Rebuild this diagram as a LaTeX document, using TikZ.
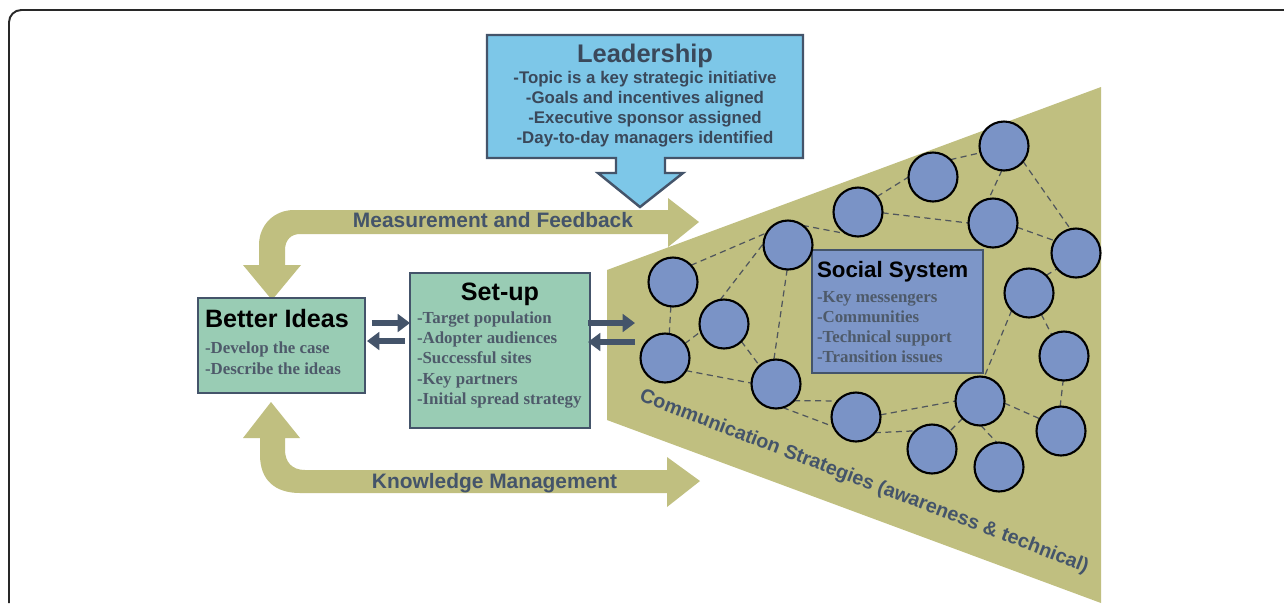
\documentclass[tikz,border=0pt]{standalone}
\usepackage{fontspec}
\setmainfont{Liberation Serif}
\newfontfamily\arialf{Liberation Sans}
\usetikzlibrary{arrows.meta,calc}
\definecolor{olivefill}{RGB}{192,191,128}
\definecolor{leadblue}{RGB}{125,199,232}
\definecolor{boxgreen}{RGB}{153,204,180}
\definecolor{circblue}{RGB}{122,147,198}
\definecolor{socblue}{RGB}{125,150,200}
\definecolor{slate}{RGB}{68,84,106}
\definecolor{leadtext}{RGB}{58,72,90}
\definecolor{bullettxt}{RGB}{78,90,106}
\definecolor{edgegray}{RGB}{80,86,92}
\definecolor{framegray}{RGB}{40,40,40}
\newcommand{\fsz}[1]{\fontsize{#1pt}{#1pt}\selectfont}
\pgfdeclarelayer{back}
\pgfdeclarelayer{mid}
\pgfsetlayers{back,mid,main}
\begin{document}
\begin{tikzpicture}[x=0.02cm,y=-0.02cm,
  every node/.style={inner sep=0pt,outer sep=0pt},
  greenbox/.style={draw=slate,line width=1.4pt,fill=boxgreen},
  socbox/.style={draw=slate,line width=1.2pt,fill=socblue},
  circ/.style={circle,draw=black,line width=1.2pt,fill=circblue,minimum size=0.98cm},
  netedge/.style={draw=edgegray,line width=0.7pt,dash pattern=on 3.5pt off 2.5pt},
  bigtitle/.style={font=\arialf\bfseries\fsz{14.3},text=black,anchor=base},
  soctitle/.style={font=\arialf\bfseries\fsz{12.7},text=black,anchor=base west},
  leadtitle/.style={font=\arialf\bfseries\fsz{14.5},text=leadtext,anchor=base},
  leadline/.style={font=\arialf\bfseries\fsz{9.6},text=leadtext,anchor=base},
  bullet/.style={font=\bfseries\fsz{9.6},text=bullettxt,anchor=base west},
  bandtext/.style={font=\arialf\bfseries\fsz{11.9},text=slate,anchor=base},
  smallarrow/.style={draw=slate,line width=3.4pt,-{Triangle[length=7pt,width=10pt]}},
  bandfill/.style={fill=olivefill}
]
\useasboundingbox (0,0) rectangle (1284,603);

\begin{pgfonlayer}{back}
\fill[white] (0,0) rectangle (1284,603);
\draw[framegray,line width=1.1pt,rounded corners=7pt] (9,603) -- (9,10) -- (1284,10);
% trapezoid of the social system
\fill[olivefill] (607,270) -- (1101,87) -- (1101,603) -- (607,420) -- cycle;
\coordinate (trapL) at (607,345);
% Measurement and Feedback band
\fill[bandfill] (259,265) -- (259,245) .. controls (259,225) and (274,210) .. (294,210)
  -- (668,210) -- (668,198) -- (699,222) -- (668,247) -- (668,234) -- (300,234)
  .. controls (291,234) and (285,240) .. (285,250) -- (285,265) -- (301,265)
  -- (272,300) -- (243,265) -- cycle;
% Knowledge Management band
\fill[bandfill] (260,438) -- (260,455) .. controls (260,480) and (275,493) .. (300,493)
  -- (667,493) -- (667,507) -- (700,481) -- (667,457) -- (667,470) -- (305,470)
  .. controls (292,470) and (285,462) .. (285,450) -- (285,438) -- (300,438)
  -- (271,402) -- (243,438) -- cycle;
\end{pgfonlayer}

% Leadership callout
\filldraw[fill=leadblue,draw=slate,line width=1.4pt,line join=miter]
  (487,35) -- (803,35) -- (803,158) -- (665,158) -- (665,173) -- (683,173)
  -- (640,207) -- (598,173) -- (616,173) -- (616,158) -- (487,158) -- cycle;
\node[leadtitle] (ldt) at (645,62) {Leadership};
\node[leadline] (ld1) at (645,83) {-Topic is a key strategic initiative};
\node[leadline] (ld2) at (645,103) {-Goals and incentives aligned};
\node[leadline] (ld3) at (645,123) {-Executive sponsor assigned};
\node[leadline] (ld4) at (645,143) {-Day-to-day managers identified};

\node[bandtext] (mf) at (493,227) {Measurement and Feedback};
\node[bandtext] (km) at (494.5,488) {Knowledge Management};

% Better Ideas
\node[greenbox,minimum width=3.34cm,minimum height=1.9cm] (bi) at (281.5,345.5) {};
\node[bigtitle,anchor=base west] (bit) at (205,327) {Better Ideas};
\node[bullet] (bi1) at (205,353) {-Develop the case};
\node[bullet] (bi2) at (205,374) {-Describe the ideas};

% Set-up
\node[greenbox,minimum width=3.6cm,minimum height=3.1cm] (su) at (500,350.5) {};
\node[bigtitle] (sut) at (500,300) {Set-up};
\node[bullet] (su1) at (417,323) {-Target population};
\node[bullet] (su2) at (417,343) {-Adopter audiences};
\node[bullet] (su3) at (417,363) {-Successful sites};
\node[bullet] (su4) at (417,384) {-Key partners};
\node[bullet] (su5) at (417,404) {-Initial spread strategy};

% arrows between boxes
\draw[smallarrow] ($(bi.east)+(7,-22.5)$) -- ($(su.west)+(0,-27.5)$);
\draw[smallarrow] ($(su.west)+(-5,-9.5)$) -- ($(bi.east)+(2,-4.5)$);
\draw[smallarrow] ($(su.east)+(-2,-27.5)$) -- ($(trapL)+(28,-22)$);
\draw[smallarrow] ($(trapL)+(28,-3)$) -- ($(su.east)+(-2,-8.5)$);

% Social system box
\node[socbox,minimum width=3.42cm,minimum height=2.46cm] (ss) at (897.5,311.5) {};
\node[soctitle] (sst) at (817,277) {Social System};
\node[bullet] (ss1) at (817,302) {-Key messengers};
\node[bullet] (ss2) at (817,322) {-Communities};
\node[bullet] (ss3) at (817,342) {-Technical support};
\node[bullet] (ss4) at (817,362) {-Transition issues};

% network circles
\node[circ] (c1) at (1004,146) {};
\node[circ] (c2) at (933,177) {};
\node[circ] (c3) at (858,212) {};
\node[circ] (c4) at (993,223) {};
\node[circ] (c5) at (1076,253) {};
\node[circ] (c6) at (788,245) {};
\node[circ] (c7) at (673,282) {};
\node[circ] (c8) at (724,324) {};
\node[circ] (c9) at (1029,293) {};
\node[circ] (c10) at (665,358) {};
\node[circ] (c11) at (776,384) {};
\node[circ] (c12) at (1064,356) {};
\node[circ] (c13) at (856,417) {};
\node[circ] (c14) at (980,401) {};
\node[circ] (c15) at (1061,431) {};
\node[circ] (c16) at (932,449) {};
\node[circ] (c17) at (999,467) {};

\begin{pgfonlayer}{mid}
\draw[netedge] (c7.43) -- (c6.150);
\draw[netedge] (c6.53) -- (c3.243);
\draw[netedge] (c3.39) -- (c2.180);
\draw[netedge] (c2.45) -- (c1.196);
\draw[netedge] (c3.-2) -- (c4.180);
\draw[netedge] (c1.-95) -- (c4.100);
\draw[netedge] (c1.-39) -- (c5.103);
\draw[netedge] (c4.-10) -- (c5.150);
\draw[netedge] (c7.-95) -- (c10.80);
\draw[netedge] (c10.36) -- (c8.198);
\draw[netedge] (c8.99) -- (c6.176);
\draw[netedge] (c8.-45) -- (c11.132);
\draw[netedge] (c6.-92) -- (c11.95);
\draw[netedge] (c10.-31) -- (c11.178);
\draw[netedge] (c11.-43) -- (c13.139);
\draw[netedge] (c11.-74) -- (c13.203);
\draw[netedge] (c13.5) -- (c14.180);
\draw[netedge] (c13.-40) -- (c16.132);
\draw[netedge] (c14.-135) -- (c16.45);
\draw[netedge] (c14.-88) -- (c17.95);
\draw[netedge] (c14.-5) -- (c15.150);
\draw[netedge] (c15.92) -- (c12.-92);
\draw[netedge] (c9.-60) -- (c12.120);
\draw[netedge] (c9.46) -- (c5.-140);
\draw[netedge] (c9.-135) -- (c14.80);
\end{pgfonlayer}

\node[font=\arialf\bfseries\fsz{11.2},text=slate,rotate=-21] (cst) at (864,482)
  {Communication Strategies (awareness \& technical)};
\end{tikzpicture}
\end{document}
